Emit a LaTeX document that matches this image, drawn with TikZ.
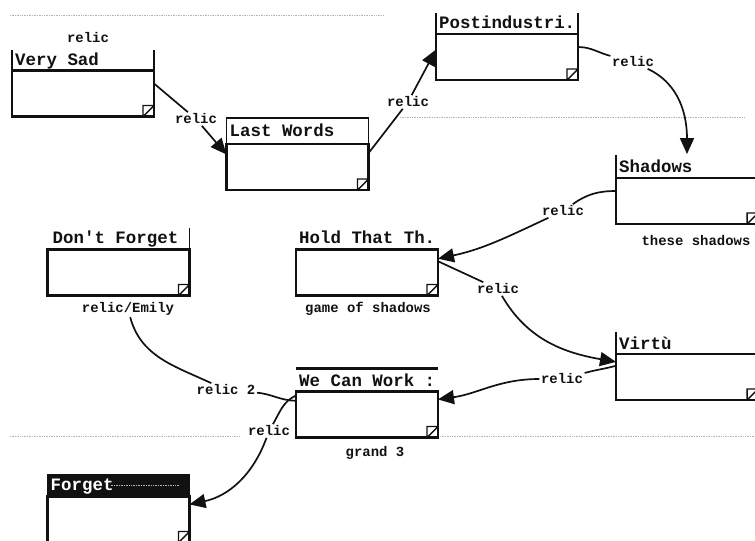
\documentclass[tikz,border=0pt]{standalone}
\usepackage{fontspec}
\usetikzlibrary{arrows.meta, positioning, calc}
\newfontfamily\cardfont{Liberation Mono}
\definecolor{inkBlack}{HTML}{111111}
\definecolor{scanGray}{HTML}{B4B4B4}
\tikzset{
  card/.style={rectangle, draw=inkBlack, line width=2.2pt, minimum width=142bp,
               minimum height=46bp, inner sep=0pt, outer sep=0pt},
  cardTitle/.style={anchor=base west, inner sep=0pt, text=inkBlack,
                    font=\cardfont\bfseries\fontsize{17.5}{18}\selectfont},
  linkLbl/.style={inner sep=1.5pt, text=inkBlack,
                  font=\cardfont\bfseries\fontsize{14}{15}\selectfont},
  linkLine/.style={draw=inkBlack, line width=1.7pt},
  linkArr/.style={linkLine, -{Triangle[length=16bp, width=14bp]}},
  titleEdge/.style={draw=inkBlack, line width=1.6pt},
  grip/.style={draw=inkBlack, line width=1.4pt},
  scanLine/.style={draw=scanGray, line width=0.7pt, densely dotted},
}
\begin{document}
\begin{tikzpicture}[x=1bp, y=1bp]
  \useasboundingbox (0,0) rectangle (755,-541);
  % faint lines left by the scan
  \draw[scanLine] (10,-15) -- (383,-15);
  \draw[scanLine] (400,-117) -- (745,-117);
  \draw[scanLine] (10,-436) -- (240,-436);
  \draw[scanLine] (440,-436) -- (755,-436);

  % cards
  \node[card] (verysad)    at (83,-93.5)     {};
  \node[card] (lastwords)  at (297.5,-167)   {};
  \node[card] (postind)    at (507,-57)      {};
  \node[card] (shadows)    at (687,-201)     {};
  \node[card] (holdthat)   at (367,-272.5)   {};
  \node[card] (dontforget) at (118.5,-272.5) {};
  \node[card] (virtu)      at (687,-377)     {};
  \node[card] (wecanwork)  at (367,-414.5)   {};
  \node[card] (forget)     at (118.5,-519.5) {};

  % title areas
  \draw[titleEdge] (verysad.north west) -- ++(0,20) (verysad.north east) -- ++(0,20);
  \draw[titleEdge] (lastwords.north west) |- ([yshift=26]lastwords.north east) -- (lastwords.north east);
  \draw[titleEdge] (postind.north west) -- ++(0,21) (postind.north east) -- ++(0,21);
  \draw[titleEdge] (shadows.north west) -- ++(0,23);
  \draw[titleEdge] (dontforget.north east) -- ++(0,21);
  \draw[titleEdge] (virtu.north west) -- ++(0,22);
  \draw[titleEdge, line width=2.2pt] ([yshift=23]wecanwork.north west) -- ([yshift=23]wecanwork.north east);
  \fill[inkBlack] (forget.north west) rectangle ([yshift=23]forget.north east);
  \draw[scanLine, line width=1.5pt] ([shift={(63,11)}]forget.north west) -- ([shift={(131,11)}]forget.north west);

  \node[cardTitle] (verysadT)    at ([shift={(3,5)}]verysad.north west)    {Very Sad};
  \node[cardTitle] (lastwordsT)  at ([shift={(3,7)}]lastwords.north west)  {Last Words};
  \node[cardTitle] (postindT)    at ([shift={(3,5)}]postind.north west)    {Postindustri.};
  \node[cardTitle] (shadowsT)    at ([shift={(3,5)}]shadows.north west)    {Shadows};
  \node[cardTitle] (holdthatT)   at ([shift={(3,6)}]holdthat.north west)   {Hold That Th.};
  \node[cardTitle] (dontforgetT) at ([shift={(5,6)}]dontforget.north west) {Don't Forget};
  \node[cardTitle] (virtuT)      at ([shift={(3,5)}]virtu.north west)      {Virtù};
  \node[cardTitle] (wecanworkT)  at ([shift={(3,5)}]wecanwork.north west)  {We Can Work :};
  \node[cardTitle, text=white] (forgetT) at ([shift={(3,6)}]forget.north west) {Forget};

  % resize corners
  \foreach \c in {verysad,lastwords,postind,shadows,holdthat,dontforget,virtu,wecanwork,forget}
    \draw[grip] ([xshift=-11]\c.south east) rectangle ([yshift=11]\c.south east)
                ([xshift=-11]\c.south east) -- ([yshift=11]\c.south east);

  % link labels
  \node[linkLbl] (lTop)     at (88,-38)   {relic};
  \node[linkLbl] (lA)       at (196,-119) {relic};
  \node[linkLbl] (lB)       at (408,-102) {relic};
  \node[linkLbl] (lC)       at (633,-62)  {relic};
  \node[linkLbl] (lD)       at (563,-211) {relic};
  \node[linkLbl] (lE)       at (498,-289) {relic};
  \node[linkLbl] (lF)       at (562,-379) {relic};
  \node[linkLbl] (lG)       at (226,-390) {relic 2};
  \node[linkLbl] (lH)       at (269,-431) {relic};
  \node[linkLbl] (lEmily)   at (128,-309) {relic/Emily};
  \node[linkLbl] (lShadows) at (696,-241) {these shadows};
  \node[linkLbl] (lGame)    at (368,-309) {game of shadows};
  \node[linkLbl] (lGrand)   at (375,-453) {grand 3};
  \coordinate (shadowsTop) at ([yshift=24]shadows.north);

  % links
  \draw[linkLine] (verysad.8) -- (lA);
  \draw[linkArr] (lA) -- (lastwords.170);
  \draw[linkLine] (lastwords.11) -- (lB);
  \draw[linkArr] (lB) -- (postind.174);
  \draw[linkLine] (postind.8) to[out=0, in=165] (lC);
  \draw[linkArr] (lC) to[out=-25, in=90] (shadowsTop);
  \draw[linkLine] (shadows.172) to[out=180, in=35] (lD);
  \draw[linkArr] (lD) to[out=205, in=12] (holdthat.11);
  \draw[linkLine] (holdthat.9) -- (lE);
  \draw[linkArr] (lE) to[out=-60, in=170] (virtu.168);
  \draw[linkLine] (virtu.171) to[out=195, in=15] (lF);
  \draw[linkArr] (lF) to[out=180, in=8] (wecanwork.12);
  \draw[linkLine] (wecanwork.169) to[out=180, in=-5] (lG);
  \draw[linkLine] (lG) to[out=155, in=-75] (lEmily);
  \draw[linkLine] (wecanwork.165) to[out=205, in=60] (lH);
  \draw[linkArr] (lH) to[out=-110, in=12] (forget.12);
\end{tikzpicture}
\end{document}
